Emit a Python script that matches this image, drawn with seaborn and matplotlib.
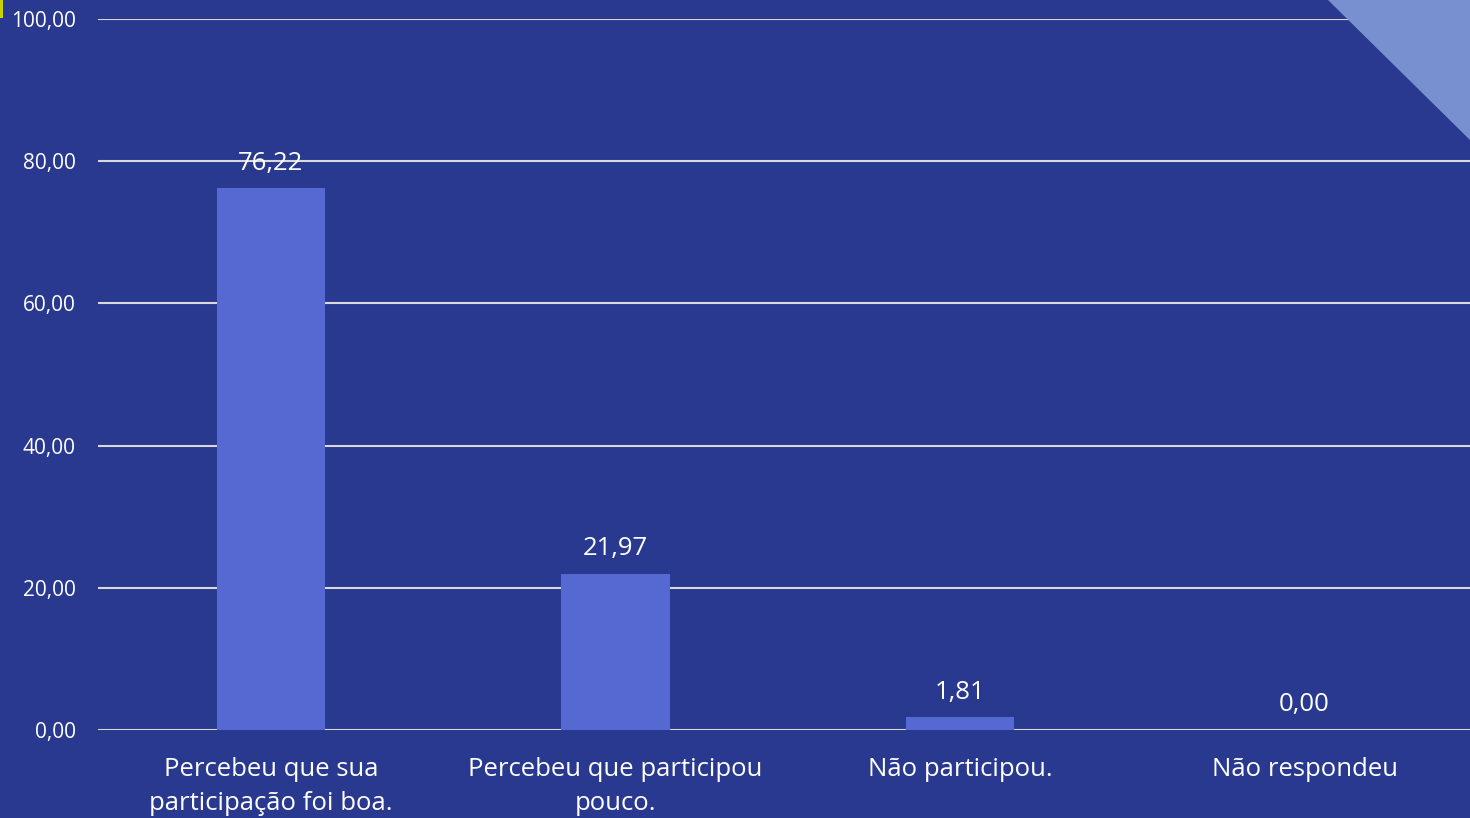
import numpy as np
import pandas as pd
import seaborn as sns
import matplotlib.pyplot as plt
from matplotlib.patches import Polygon, Rectangle

categories = ["Percebeu que sua\nparticipação foi boa.",
              "Percebeu que participou\npouco.",
              "Não participou.",
              "Não respondeu"]
values = [76.22, 21.97, 1.81, 0.00]
y_ticks = [0, 20, 40, 60, 80, 100]

bg = "#29398f"
bar_color = "#5668d1"

sns.set_style("white")
plt.rcParams["font.family"] = ["Open Sans", "DejaVu Sans"]

df = pd.DataFrame({"categoria": categories, "pct": values})

fig = plt.figure(figsize=(14.7, 8.18), dpi=100, facecolor=bg)

# decorative triangle in the top-right corner
fig.patches.append(Polygon([[1328 / 1470, 1], [1, 1], [1, 1 - 140 / 818]],
                           closed=True, transform=fig.transFigure,
                           facecolor="#7890cf", edgecolor="none", zorder=0))
fig.patches.append(Rectangle((0, 1 - 18 / 818), 3 / 1470, 18 / 818,
                             transform=fig.transFigure,
                             facecolor="#c8d400", edgecolor="none", zorder=0))

ax = fig.add_axes([98 / 1470, 88 / 818, 1 - 98 / 1470, 711 / 818])
ax.patch.set_alpha(0)

sns.barplot(data=df, x="categoria", y="pct", color=bar_color, width=0.314,
            saturation=1, edgecolor="none", linewidth=0, ax=ax, zorder=3)

labels = [f"{v:.2f}".replace(".", ",") for v in values]
ax.bar_label(ax.containers[0], labels=labels, padding=9, color="white",
             fontsize=18.5)

ax.set_ylim(0, 100)
ax.set_xlim(-0.502, 3.48)
ax.set_yticks(y_ticks)
ax.set_yticklabels([f"{t:.2f}".replace(".", ",") for t in y_ticks])
ax.grid(axis="y", color="#d9d9d9", linewidth=1.5, zorder=1)
ax.set_axisbelow(True)
for s in ax.spines.values():
    s.set_visible(False)
ax.tick_params(axis="y", length=0, pad=16, colors="white", labelsize=15)
ax.tick_params(axis="x", length=0, pad=19.5, colors="white", labelsize=18.5)
for lab in ax.get_xticklabels():
    lab.set_linespacing(1.47)
ax.set_xlabel("")
ax.set_ylabel("")

fig.savefig("out.png", dpi=100, facecolor=bg)
